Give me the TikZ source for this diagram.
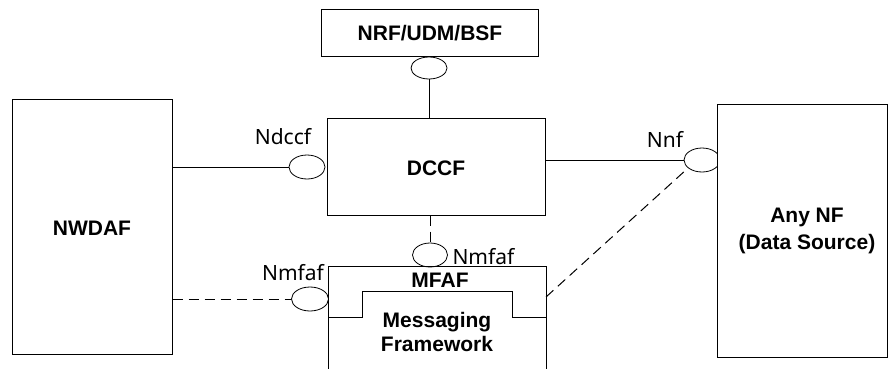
\documentclass[tikz,border=0pt]{standalone}
\usepackage{fontspec}
\setmainfont{Liberation Sans}
\newfontfamily\lblfont{Noto Sans}
\usetikzlibrary{shapes.geometric}
\begin{document}
\begin{tikzpicture}[x=1pt,y=-1pt,line width=1pt,
  box/.style={draw,rectangle,inner sep=0pt,fill=white},
  iface/.style={draw,ellipse,inner sep=0pt,minimum width=36pt,minimum height=24pt,fill=white,line width=0.8pt},
  bold/.style={font=\fontsize{21}{24}\selectfont\bfseries,align=center,inner sep=0pt},
  lbl/.style={font=\lblfont\fontsize{21}{24}\selectfont,inner sep=0pt},
  dsh/.style={dash pattern=on 10pt off 6pt}]
\useasboundingbox (0,0) rectangle (888,369);
% boxes
\node[box,minimum width=217pt,minimum height=47pt] (nrf) at (429.5,33.5) {};
\node[bold] (nrft) at (430,33) {NRF/UDM/BSF};
\node[box,minimum width=218pt,minimum height=97pt] (dccf) at (436,166.5) {};
\node[bold] (dccft) at (436,168) {DCCF};
\node[box,minimum width=160pt,minimum height=255pt] (nwdaf) at (92,226.5) {};
\node[bold] (nwdaft) at (92,228) {NWDAF};
% interfaces
\node[iface,minimum height=22pt] (nrfif) at (429,68) {};
\node[iface] (ndccf) at (307,167) {};
\node[iface,minimum width=37pt] (nmfafL) at (310,299) {};
\node[iface,minimum width=35pt] (nmfafT) at (430,255) {};
\node[iface] (nnf) at (702,160) {};
\node[box,minimum width=170pt,minimum height=253pt] (anynf) at (802,230.5) {};
\node[bold,font=\fontsize{21}{27}\selectfont\bfseries] (anynft) at (807,231) {Any NF\\(Data Source)};
% MFAF
\draw (328,372) -- (328,266) -- (546,266) -- (546,372);
\draw (328,317) -- (362,317) -- (362,291) -- (512,291) -- (512,317) -- (546,317);
\coordinate (mfafR) at (546,297);
\node[bold] (mfaft) at (440,280) {MFAF};
\node[bold] (msgt) at (437,332) {Messaging\\Framework};
% labels
\node[lbl] (lndccf) at (283,137) {Ndccf};
\node[lbl] (lnmfafL) at (293,273) {Nmfaf};
\node[lbl,anchor=west] (lnmfafT) at (452,257) {Nmfaf};
\node[lbl] (lnnf) at (665,139) {Nnf};
% connectors
\draw (nwdaf.east |- ndccf) -- (ndccf.west);
\draw (nrfif.south) -- (nrfif.south |- dccf.north);
\draw (dccf.east |- nnf) -- (nnf.west);
\draw[dsh] (nmfafT.north |- dccf.south) -- (nmfafT.north);
\draw[dsh] (nwdaf.east |- nmfafL) -- (nmfafL.west);
\draw[dsh] (mfafR) -- (nnf.210);
\end{tikzpicture}
\end{document}
